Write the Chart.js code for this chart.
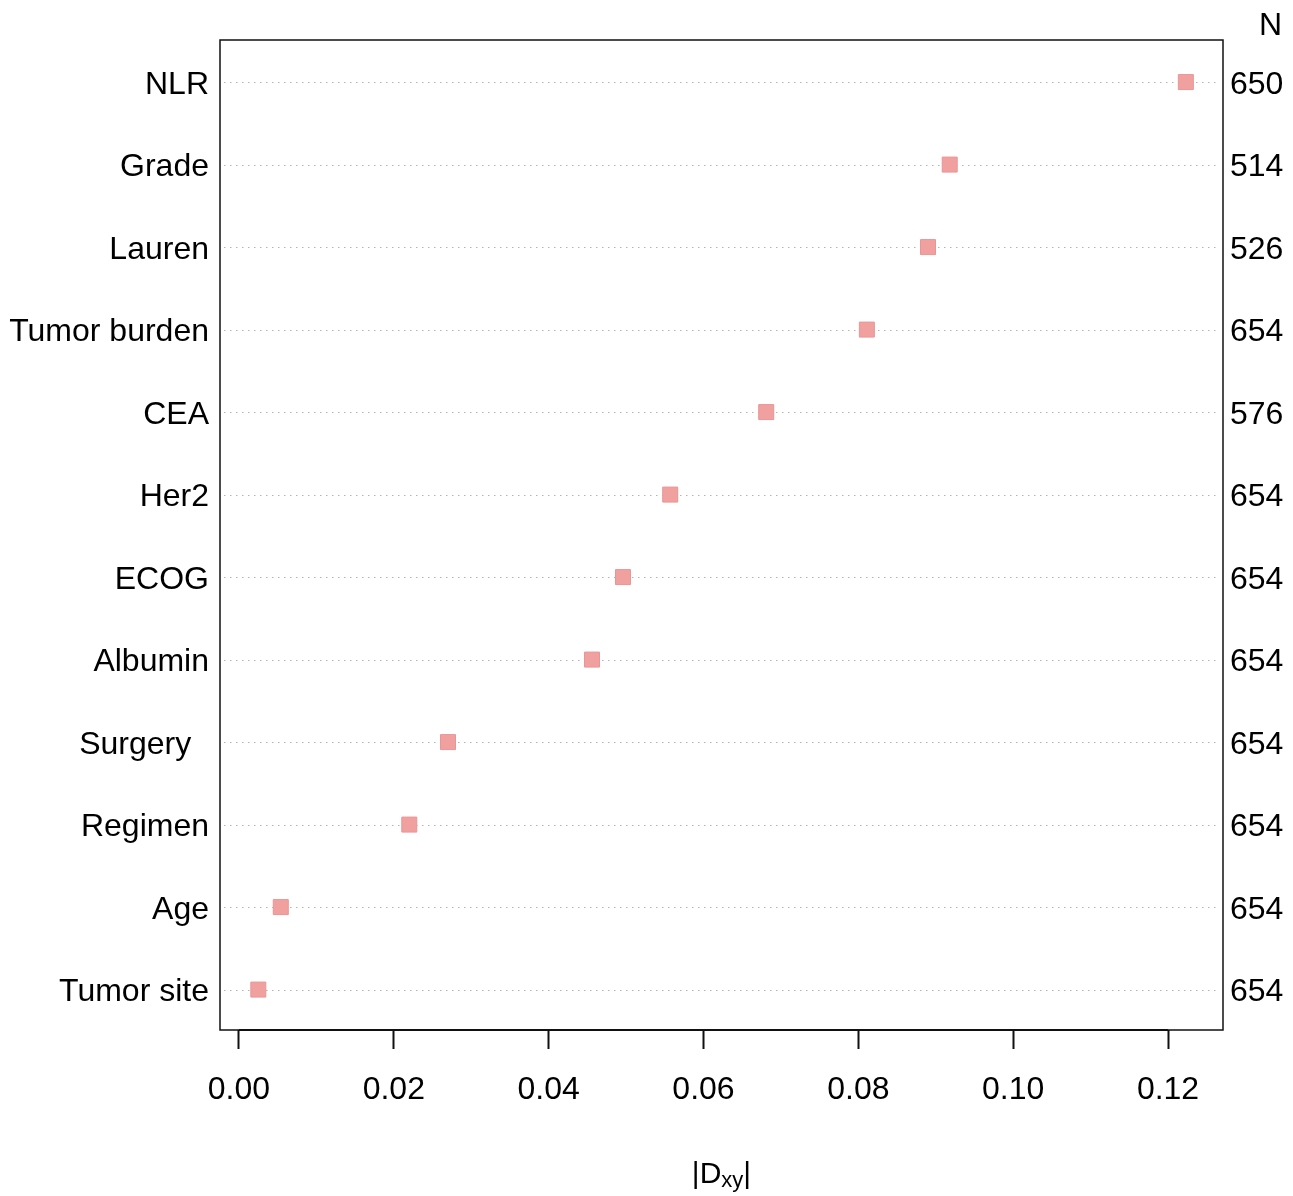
<!DOCTYPE html>
<html>
<head>
<meta charset="utf-8">
<script src="https://cdn.jsdelivr.net/npm/chart.js"></script>
<style>
  html, body { margin: 0; padding: 0; background: #ffffff; }
  #c { display: block; }
</style>
</head>
<body>
<canvas id="c" width="1293" height="1196"></canvas>
<script>
// ---- data (top row to bottom row) ----
const categories = ["NLR", "Grade", "Lauren", "Tumor burden", "CEA", "Her2", "ECOG", "Albumin", "Surgery  ", "Regimen", "Age", "Tumor site"];
const dxyValues  = [0.1223, 0.0918, 0.0890, 0.0811, 0.0681, 0.0557, 0.0496, 0.0456, 0.0270, 0.0220, 0.0054, 0.0025];
const nLabels    = ["650", "514", "526", "654", "576", "654", "654", "654", "654", "654", "654", "654"];
const xTickValues = [0.00, 0.02, 0.04, 0.06, 0.08, 0.10, 0.12];
const rightHeader = "N";

const nRows = categories.length;
const FONT = "'Liberation Sans', Arial, Helvetica, sans-serif";
const FS = 32;

const points = dxyValues.map((v, i) => ({ x: v, y: nRows - i }));
const rowTicks = categories.map((c, i) => ({ value: nRows - i }));

const framePlugin = {
  id: 'frame',
  beforeDatasetsDraw(chart) {
    const { ctx, chartArea: a } = chart;
    const ys = chart.scales.y;
    ctx.save();
    ctx.strokeStyle = '#b4b4b4';
    ctx.lineWidth = 1.2;
    ctx.setLineDash([1.5, 4.5]);
    for (let i = 0; i < nRows; i++) {
      const py = Math.round(ys.getPixelForValue(nRows - i)) + 0.5;
      ctx.beginPath();
      ctx.moveTo(a.left + 4, py);
      ctx.lineTo(a.right - 4, py);
      ctx.stroke();
    }
    ctx.restore();
  },
  afterDraw(chart) {
    const { ctx, chartArea: a } = chart;
    const xs = chart.scales.x;
    ctx.save();
    // box
    ctx.strokeStyle = '#111111';
    ctx.lineWidth = 1.5;
    ctx.setLineDash([]);
    ctx.strokeRect(a.left, a.top, a.right - a.left, a.bottom - a.top);
    // axis line from first to last tick
    ctx.lineWidth = 2.2;
    ctx.beginPath();
    ctx.moveTo(xs.getPixelForValue(xTickValues[0]), a.bottom);
    ctx.lineTo(xs.getPixelForValue(xTickValues[xTickValues.length - 1]), a.bottom);
    ctx.stroke();
    // right header "N"
    const yr = chart.scales.yRight;
    ctx.fillStyle = '#000000';
    ctx.font = FS + "px " + FONT;
    ctx.textAlign = 'right';
    ctx.textBaseline = 'alphabetic';
    ctx.fillText(rightHeader, yr.right - 11, a.top - 5);
    // x axis title |Dxy|
    const big = "30px " + FONT, small = "22px " + FONT;
    ctx.font = big; const w1 = ctx.measureText("|D").width; const w3 = ctx.measureText("|").width;
    ctx.font = small; const w2 = ctx.measureText("xy").width;
    const cx = (a.left + a.right) / 2;
    let sx = cx - (w1 + w2 + w3) / 2;
    const base = a.bottom + 153;
    ctx.textAlign = 'left';
    ctx.font = big; ctx.fillText("|D", sx, base);
    ctx.font = small; ctx.fillText("xy", sx + w1, base + 4);
    ctx.font = big; ctx.fillText("|", sx + w1 + w2, base);
    ctx.restore();
  }
};

new Chart(document.getElementById('c'), {
  type: 'scatter',
  data: {
    datasets: [{
      data: points,
      pointStyle: 'rect',
      pointRadius: 10.6,
      pointHoverRadius: 10.6,
      backgroundColor: '#f1a0a0',
      borderColor: '#e99595',
      borderWidth: 1
    }]
  },
  options: {
    responsive: false,
    devicePixelRatio: 1,
    animation: false,
    events: [],
    layout: { padding: { top: 40, left: 0, right: 0, bottom: 0 } },
    plugins: { legend: { display: false }, tooltip: { enabled: false } },
    scales: {
      x: {
        type: 'linear',
        position: 'bottom',
        min: -0.00245,
        max: 0.1271,
        afterBuildTicks(scale) { scale.ticks = xTickValues.map(v => ({ value: v })); },
        afterFit(scale) { scale.height = 166; },
        grid: { display: true, drawOnChartArea: false, drawTicks: true, tickLength: 19, tickWidth: 2, tickColor: '#111111', color: '#111111' },
        border: { display: false },
        ticks: {
          color: '#000000',
          font: { family: FONT, size: FS },
          padding: 22,
          maxRotation: 0,
          autoSkip: false,
          callback: (v) => Number(v).toFixed(2)
        }
      },
      y: {
        type: 'linear',
        position: 'left',
        min: 0.51,
        max: 12.51,
        afterBuildTicks(scale) { scale.ticks = rowTicks.map(t => ({ value: t.value })); },
        afterFit(scale) { scale.width = 220; },
        grid: { display: false, drawTicks: false, tickLength: 0 },
        border: { display: false },
        ticks: {
          color: '#000000',
          font: { family: FONT, size: FS },
          padding: 11,
          labelOffset: 3,
          autoSkip: false,
          callback: (v) => categories[nRows - Math.round(v)]
        }
      },
      yRight: {
        type: 'linear',
        position: 'right',
        min: 0.51,
        max: 12.51,
        afterBuildTicks(scale) { scale.ticks = rowTicks.map(t => ({ value: t.value })); },
        afterFit(scale) { scale.width = 70; },
        grid: { display: false, drawTicks: false, tickLength: 0 },
        border: { display: false },
        ticks: {
          color: '#000000',
          font: { family: FONT, size: FS },
          padding: 7,
          labelOffset: 3,
          autoSkip: false,
          callback: (v) => nLabels[nRows - Math.round(v)]
        }
      }
    }
  },
  plugins: [framePlugin]
});
</script>
</body>
</html>
